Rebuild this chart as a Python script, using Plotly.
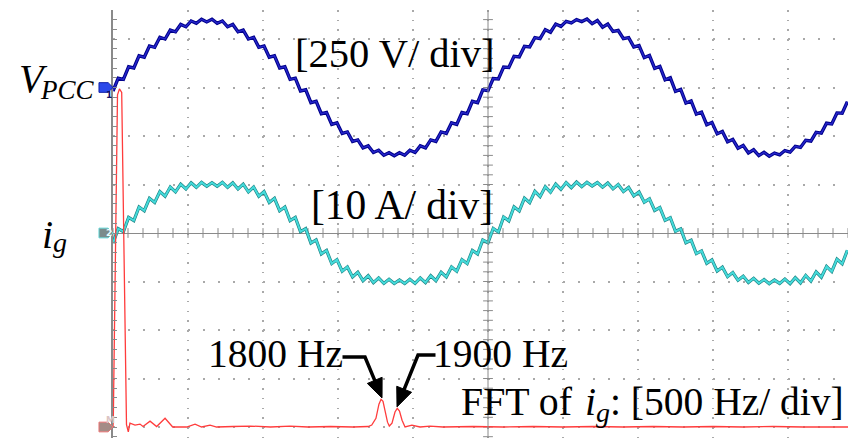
import math
import plotly.graph_objects as go

# ---------------- scope settings ----------------
TIME_PER_DIV_MS = 4.0
SAMPLE_DT_MS = 20.0 / 72          # record sample interval (ms)
V_PER_DIV = 250.0
A_PER_DIV = 10.0
HZ_PER_DIV = 500.0
CH1_OFFSET_DIV = 3.0
CH2_OFFSET_DIV = 0.0
MATH_OFFSET_DIV = -4.0

# ---------------- data ----------------
v_pcc_volts = [
    -18, 48, 42, 107, 101, 163, 156, 214, 207, 259, 250, 296, 287, 325, 313, 343, 331, 352,
    338, 352, 331, 343, 313, 325, 287, 296, 250, 259, 207, 214, 156, 163, 101, 107, 42, 48,
    -18, -12, -78, -71, -135, -129, -190, -182, -237, -229, -278, -270, -311, -301, -335, -323, -349, -336,
    -352, -336, -349, -323, -335, -301, -311, -270, -278, -229, -237, -182, -190, -129, -135, -71, -78, -12,
    -16, 46, 44, 105, 103, 161, 158, 212, 209, 257, 252, 298, 285, 327, 315, 341, 333, 350,
    340, 353, 329, 345, 311, 327, 289, 294, 252, 257, 209, 216, 154, 165, 99, 109, 40, 50,
    -20, -10, -80, -69, -137, -127, -192, -180, -239, -227, -280, -268, -313, -299, -337, -321, -351, -334,
    -354, -338, -347, -325, -333, -303, -309, -272, -276, -231, -235, -184, -188, -131, -133, -73,
]

i_g_amps = [
    -2.08, 0.90, 0.28, 3.22, 2.56, 5.35, 4.60, 7.15, 6.29, 8.53, 7.58, 9.49, 8.48, 10.07, 9.07, 10.35, 9.42, 10.43,
    9.62, 10.38, 9.62, 10.43, 9.42, 10.35, 9.07, 10.07, 8.48, 9.49, 7.58, 8.53, 6.29, 7.15, 4.60, 5.35, 2.56, 3.22,
    0.28, 0.90, -2.08, -1.44, -4.32, -3.61, -6.30, -5.49, -7.89, -6.99, -9.06, -8.09, -9.82, -8.81, -10.23, -9.27, -10.40, -9.53,
    -10.42, -9.68, -10.42, -9.53, -10.40, -9.27, -10.23, -8.81, -9.82, -8.09, -9.06, -6.99, -7.89, -5.49, -6.30, -3.61, -4.32, -1.44,
    -2.00, 0.95, 0.20, 3.30, 2.50, 5.40, 4.55, 7.20, 6.25, 8.60, 7.50, 9.55, 8.40, 10.10, 9.00, 10.40, 9.35, 10.50,
    9.55, 10.45, 9.70, 10.40, 9.45, 10.30, 9.10, 10.00, 8.55, 9.40, 7.65, 8.45, 6.35, 7.05, 4.65, 5.25, 2.60, 3.15,
    0.35, 0.85, -2.00, -1.50, -4.25, -3.70, -6.25, -5.55, -7.85, -7.05, -9.00, -8.15, -9.75, -8.90, -10.20, -9.35, -10.35, -9.60,
    -10.45, -9.70, -10.40, -9.50, -10.45, -9.20, -10.30, -8.75, -9.90, -8.00, -9.10, -6.90, -7.95, -5.40, -6.35, -3.55,
]

fft_freq_hz = [0, 2, 30, 43, 58, 90, 102, 113, 147, 180, 200, 247, 291, 347, 398, 491, 547, 591, 647, 691,
               800, 913, 1050, 1180, 1300, 1450, 1600, 1700, 1725, 1753, 1773, 1787, 1800, 1817, 1830,
               1842, 1860, 1880, 1895, 1910, 1927, 1947, 1993, 2047, 2113, 2200, 2400, 2600, 2800, 3000,
               3200, 3400, 3600, 3800, 4000, 4200, 4400, 4600, 4800, 4900]
fft_mag_div = [0.0, 0.15, 6.85, 6.97, 6.9, 0.05, -0.1, 0.08, 0.04, 0.06, 0.01, 0.12, 0.01, 0.18, 0.0, 0.0, 0.06, 0.0, 0.04, 0.0,
               0.01, 0.02, 0.0, 0.02, 0.0, 0.01, 0.0, 0.01, 0.04, 0.18, 0.47, 0.57, 0.53, 0.31, 0.1,
               0.02, 0.08, 0.31, 0.385, 0.33, 0.14, 0.0, 0.04, 0.0, 0.02, 0.0, 0.01, 0.0, 0.01, 0.0,
               0.01, 0.0, 0.01, 0.0, 0.01, 0.0, 0.01, 0.0, 0.01, 0.0]

# ---------------- geometry (divisions) ----------------
X_RANGE = [0.0, 9.8]
Y_RANGE = [-205 / 48.5, 223 / 48.5]
PX_PER_DIV_X = 75.0
PX_PER_DIV_Y = 48.5
GRID = "#a9a9a9"
AXIS = "#8a8a8a"
FONT = "Liberation Serif"


def paper_x(xd):
    return (xd - X_RANGE[0]) / (X_RANGE[1] - X_RANGE[0])


def paper_y(yd):
    return (yd - Y_RANGE[0]) / (Y_RANGE[1] - Y_RANGE[0])


t_div = [k * SAMPLE_DT_MS / TIME_PER_DIV_MS for k in range(len(v_pcc_volts))]
v_div = [CH1_OFFSET_DIV + v / V_PER_DIV for v in v_pcc_volts]
i_div = [CH2_OFFSET_DIV + a / A_PER_DIV for a in i_g_amps]
f_div = [f / HZ_PER_DIV for f in fft_freq_hz]
m_div = [MATH_OFFSET_DIV + m for m in fft_mag_div]

fig = go.Figure()

# center-line tick marks
minor_x = [i * 0.2 for i in range(0, 50)]
minor_y = [j * 0.2 for j in range(-21, 23)]
fig.add_trace(go.Scatter(x=minor_x, y=[0] * len(minor_x), mode="markers", hoverinfo="skip",
                         marker=dict(symbol="line-ns", size=7, line=dict(width=1, color=AXIS))))
fig.add_trace(go.Scatter(x=[5] * len(minor_y), y=minor_y, mode="markers", hoverinfo="skip",
                         marker=dict(symbol="line-ew", size=7, line=dict(width=1, color=AXIS))))

# Ch1 : V_PCC
fig.add_trace(go.Scatter(x=t_div, y=v_div, mode="lines", line=dict(color="#00008a", width=3.4), hoverinfo="skip"))
fig.add_trace(go.Scatter(x=t_div, y=v_div, mode="lines", line=dict(color="#2626cc", width=1.4), hoverinfo="skip"))
# Ch2 : i_g
fig.add_trace(go.Scatter(x=t_div, y=i_div, mode="lines", line=dict(color="#1b8080", width=3.2), hoverinfo="skip"))
fig.add_trace(go.Scatter(x=t_div, y=i_div, mode="lines", line=dict(color="#45dada", width=2.0), hoverinfo="skip"))
# Math : FFT of i_g
fig.add_trace(go.Scatter(x=f_div, y=m_div, mode="lines", line=dict(color="#ff3c3c", width=1.3), hoverinfo="skip"))

shapes = []
# vertical center line
shapes.append(dict(type="line", xref="x", yref="paper", x0=5, x1=5, y0=0, y1=1,
                   line=dict(color=AXIS, width=1)))

# channel reference flags
flags = [
    (CH1_OFFSET_DIV, "1", "#2b49ea", "#1222a8", "#10106a"),
    (CH2_OFFSET_DIV, "2", "#7b8b8b", "#5fd3d3", "#eaffff"),
    (MATH_OFFSET_DIV, "M", "#a48c86", "#e87474", "#dcc4c4"),
]
annotations = []
for off, lab, fill, edge, tcol in flags:
    pts = [(-0.187, off + 0.1), (-0.065, off + 0.1), (0.0, off), (-0.065, off - 0.1), (-0.187, off - 0.1)]
    path = "M " + " L ".join(f"{paper_x(a):.5f},{paper_y(b):.5f}" for a, b in pts) + " Z"
    shapes.append(dict(type="path", xref="paper", yref="paper", path=path,
                       fillcolor=fill, line=dict(color=edge, width=1)))
    annotations.append(dict(x=paper_x(-0.115), y=paper_y(off), xref="paper", yref="paper",
                            text=f"<b>{lab}</b>", showarrow=False,
                            font=dict(family="DejaVu Sans", size=9, color=tcol)))

# bent arrows pointing to the harmonic peaks (start at label, bend, tip)
ARW = 3.5
HEAD_LEN = 19.0
HEAD_HALF = 8.0


def bent_arrow(start, bend, tip):
    dx = (tip[0] - bend[0]) * PX_PER_DIV_X
    dy = (tip[1] - bend[1]) * PX_PER_DIV_Y
    n = math.hypot(dx, dy)
    ux, uy = dx / n, dy / n
    bx = tip[0] - HEAD_LEN * ux / PX_PER_DIV_X
    by = tip[1] - HEAD_LEN * uy / PX_PER_DIV_Y
    lx = tip[0] - (HEAD_LEN - 3) * ux / PX_PER_DIV_X
    ly = tip[1] - (HEAD_LEN - 3) * uy / PX_PER_DIV_Y
    px_, py_ = -uy, ux
    p1 = (bx + HEAD_HALF * px_ / PX_PER_DIV_X, by + HEAD_HALF * py_ / PX_PER_DIV_Y)
    p2 = (bx - HEAD_HALF * px_ / PX_PER_DIV_X, by - HEAD_HALF * py_ / PX_PER_DIV_Y)
    line_path = f"M {start[0]},{start[1]} L {bend[0]},{bend[1]} L {lx},{ly}"
    head_path = f"M {tip[0]},{tip[1]} L {p1[0]},{p1[1]} L {p2[0]},{p2[1]} Z"
    return [
        dict(type="path", xref="x", yref="y", path=line_path, line=dict(color="black", width=ARW)),
        dict(type="path", xref="x", yref="y", path=head_path, fillcolor="black",
             line=dict(color="black", width=1)),
    ]


shapes += bent_arrow((3.06, -2.557), (3.36, -2.557), (3.587, -3.40))
shapes += bent_arrow((4.30, -2.515), (4.067, -2.515), (3.787, -3.585))


def txt(x, y, s, size=40):
    return dict(x=paper_x(x), y=paper_y(y), xref="paper", yref="paper", text=s, showarrow=False,
                xanchor="left", yanchor="middle", font=dict(family=FONT, size=size, color="black"))


annotations += [
    txt(-1.28, 3.186, "<i>V</i>", size=40),
    txt(-1.0, 2.95, "<i>PCC</i>", size=27),
    txt(-0.973, -0.031, "<i>i</i>", size=40),
    txt(-0.827, -0.196, "<i>g</i>", size=28),
    txt(2.40, 3.70, "[250 V/ div]", size=40.5),
    txt(2.613, 0.57, "[10 A/ div]", size=41.5),
    txt(1.24, -2.50, "1800 Hz", size=39.5),
    txt(4.24, -2.50, "1900 Hz", size=39.5),
    txt(4.613, -3.476, "FFT of", size=39.8),
    txt(6.267, -3.476, "<i>i</i>", size=39.8),
    txt(6.413, -3.70, "<i>g</i>", size=28),
    txt(6.60, -3.476, ": [500 Hz/ div]", size=39.5),
]

fig.update_layout(
    width=848, height=438, autosize=False,
    margin=dict(l=113, r=0, t=10, b=0, pad=0),
    paper_bgcolor="white", plot_bgcolor="white",
    showlegend=False,
    shapes=shapes, annotations=annotations,
    xaxis=dict(range=X_RANGE, tick0=0, dtick=1, showgrid=True, gridcolor=GRID, gridwidth=1.5,
               griddash="1.5px,8.2px", showticklabels=False, zeroline=False, showline=False, ticks="",
               fixedrange=True),
    yaxis=dict(range=Y_RANGE, tick0=0, dtick=1, showgrid=True, gridcolor=GRID, gridwidth=1.5,
               griddash="1.5px,13.5px", showticklabels=False, zeroline=True, zerolinecolor=AXIS,
               zerolinewidth=1, showline=True, linecolor=AXIS, linewidth=2, ticks="inside",
               ticklen=4, tickcolor=AXIS, tickwidth=1,
               minor=dict(dtick=0.2, tick0=0, ticks="inside", ticklen=4, tickcolor=AXIS, tickwidth=1,
                          showgrid=False),
               fixedrange=True),
)

fig.write_html("out.html", config={"displayModeBar": False},
               post_script="document.body.style.margin='0';document.body.style.overflow='hidden';")
